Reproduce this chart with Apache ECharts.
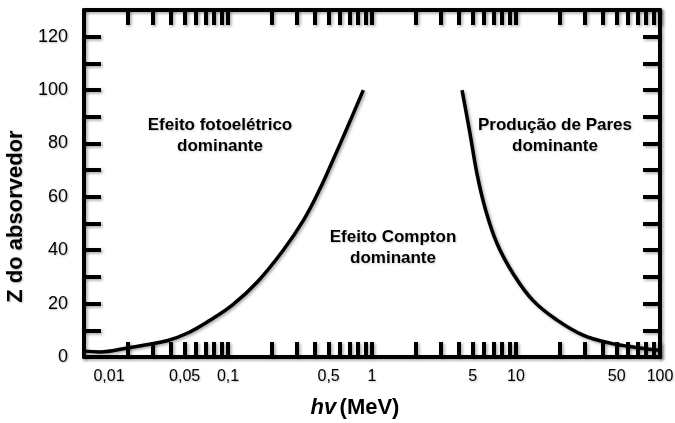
<!DOCTYPE html>
<html>
<head>
<meta charset="utf-8">
<script src="https://cdn.jsdelivr.net/npm/echarts@6/dist/echarts.min.js"></script>
<style>
  html, body { margin: 0; padding: 0; background: #fff; }
  #chart { width: 675px; height: 423px; }
</style>
</head>
<body>
<div id="chart"></div>
<script>
// Photon energy hv (MeV), log scale, and atomic number Z of the absorber
const energyMin = 0.01;
const energyMax = 100;
const energyLabels = [0.01, 0.05, 0.1, 0.5, 1, 5, 10, 50, 100];
const energyTicks = [
  0.02, 0.03, 0.04, 0.05, 0.06, 0.07, 0.08, 0.09, 0.1,
  0.2, 0.3, 0.4, 0.5, 0.6, 0.7, 0.8, 0.9, 1,
  2, 3, 4, 5, 6, 7, 8, 9, 10,
  20, 30, 40, 50, 60, 70, 80, 90, 100
];
const zMin = 0;
const zMax = 130;
const zLabels = [0, 20, 40, 60, 80, 100, 120];
const zTicks = [10, 20, 30, 40, 50, 60, 70, 80, 90, 100, 110, 120];

// Boundary where photoelectric and Compton cross sections are equal: [hv, Z]
const photoComptonBoundary = [
  [0.01, 2.2], [0.0129, 1.9], [0.02, 3.4], [0.0265, 4.5], [0.0377, 6.1],
  [0.052, 8.9], [0.075, 13.8], [0.107, 19.4], [0.161, 28.3], [0.241, 39.9],
  [0.332, 51], [0.435, 63], [0.536, 73.8], [0.67, 85.7], [0.87, 100]
];
// Boundary where Compton and pair production cross sections are equal: [hv, Z]
const comptonPairBoundary = [
  [4.22, 100], [4.8, 83.5], [5.36, 68.6], [6.09, 55.9], [7.38, 42.5],
  [9.53, 31.3], [13.1, 21.2], [19.3, 13.8], [29.2, 8.2], [45, 5.2],
  [72.6, 3.4], [100, 2.5]
];

const regionLabels = [
  { text: 'Efeito fotoelétrico\ndominante', x: 220, y: 136 },
  { text: 'Efeito Compton\ndominante', x: 393, y: 248 },
  { text: 'Produção de Pares\ndominante', x: 555, y: 136 }
];

const FONT = '"Liberation Sans", Arial, sans-serif';
const shadow = { shadowColor: 'rgba(0,0,0,0.35)', shadowBlur: 3, shadowOffsetX: 1.5, shadowOffsetY: 1.5 };
const textShadow = { textShadowColor: 'rgba(0,0,0,0.25)', textShadowBlur: 2, textShadowOffsetX: 1, textShadowOffsetY: 1 };
const frameLine = Object.assign({ color: '#000', width: 4 }, shadow);
const tickLine = Object.assign({ color: '#000', width: 4 }, shadow);

const fmtEnergy = v => {
  const s = String(+v.toPrecision(6)).replace('.', ',');
  return Math.abs(v - energyMin) < 1e-9 ? '{first|' + s + '}' : s;
};

const chart = echarts.init(document.getElementById('chart'), null, { renderer: 'canvas' });

const lineSeries = (data) => ({
  type: 'line',
  data: data,
  smooth: 0.4,
  symbol: 'none',
  xAxisIndex: 0,
  yAxisIndex: 0,
  lineStyle: Object.assign({ color: '#000', width: 3.5 }, shadow),
  silent: true,
  z: 3
});

chart.setOption({
  animation: false,
  backgroundColor: '#fff',
  grid: { left: 84, right: 15, top: 10, bottom: 66, containLabel: false, outerBoundsMode: 'none' },
  xAxis: [
    {
      type: 'log', logBase: 10, min: energyMin, max: energyMax, position: 'bottom',
      axisLine: { show: true, onZero: false, lineStyle: frameLine },
      axisTick: { show: true, inside: true, length: 15, lineStyle: tickLine, customValues: energyTicks },
      axisLabel: {
        show: true, margin: 12, color: '#000', fontFamily: FONT, fontSize: 16,
        customValues: energyLabels, formatter: fmtEnergy,
        ...textShadow,
        rich: { first: { fontFamily: FONT, fontSize: 16, color: '#000', padding: [0, 0, 0, 50] } }
      },
      splitLine: { show: false }, minorTick: { show: false },
      name: '{i|hv} {b|(MeV)}', nameLocation: 'middle', nameGap: 40,
      nameTextStyle: {
        padding: [0, 34, 0, 0],
        rich: {
          i: { fontFamily: FONT, fontSize: 22, fontWeight: 'bold', fontStyle: 'italic', color: '#000' },
          b: { fontFamily: FONT, fontSize: 22, fontWeight: 'bold', color: '#000' }
        }
      }
    },
    {
      type: 'log', logBase: 10, min: energyMin, max: energyMax, position: 'top',
      axisLine: { show: true, onZero: false, lineStyle: frameLine },
      axisTick: { show: true, inside: true, length: 15, lineStyle: tickLine, customValues: energyTicks },
      axisLabel: { show: false },
      splitLine: { show: false }
    }
  ],
  yAxis: [
    {
      type: 'value', min: zMin, max: zMax, interval: 10, position: 'left',
      axisLine: { show: true, onZero: false, lineStyle: frameLine },
      axisTick: { show: true, inside: true, length: 17, lineStyle: tickLine, customValues: zTicks },
      axisLabel: {
        show: true, margin: 16, color: '#000', fontFamily: FONT, fontSize: 18,
        customValues: zLabels, ...textShadow
      },
      splitLine: { show: false },
      name: 'Z do absorvedor', nameLocation: 'middle', nameRotate: 90, nameGap: 50,
      nameTextStyle: {
        fontFamily: FONT, fontSize: 22, fontWeight: 'bold', color: '#000',
        padding: [0, 66, 0, 0], ...textShadow
      }
    },
    {
      type: 'value', min: zMin, max: zMax, interval: 10, position: 'right',
      axisLine: { show: true, onZero: false, lineStyle: frameLine },
      axisTick: { show: true, inside: true, length: 17, lineStyle: tickLine, customValues: zTicks },
      axisLabel: { show: false },
      splitLine: { show: false }
    }
  ],
  series: [
    lineSeries(photoComptonBoundary),
    lineSeries(comptonPairBoundary)
  ],
  graphic: regionLabels.map(r => ({
    type: 'text',
    x: r.x,
    y: r.y,
    silent: true,
    z: 10,
    style: {
      text: r.text,
      fill: '#000',
      font: 'bold 17px ' + FONT,
      lineHeight: 21,
      align: 'center',
      verticalAlign: 'middle',
      textShadowColor: 'rgba(0,0,0,0.2)',
      textShadowBlur: 2,
      textShadowOffsetX: 1,
      textShadowOffsetY: 1
    }
  }))
});
</script>
</body>
</html>
